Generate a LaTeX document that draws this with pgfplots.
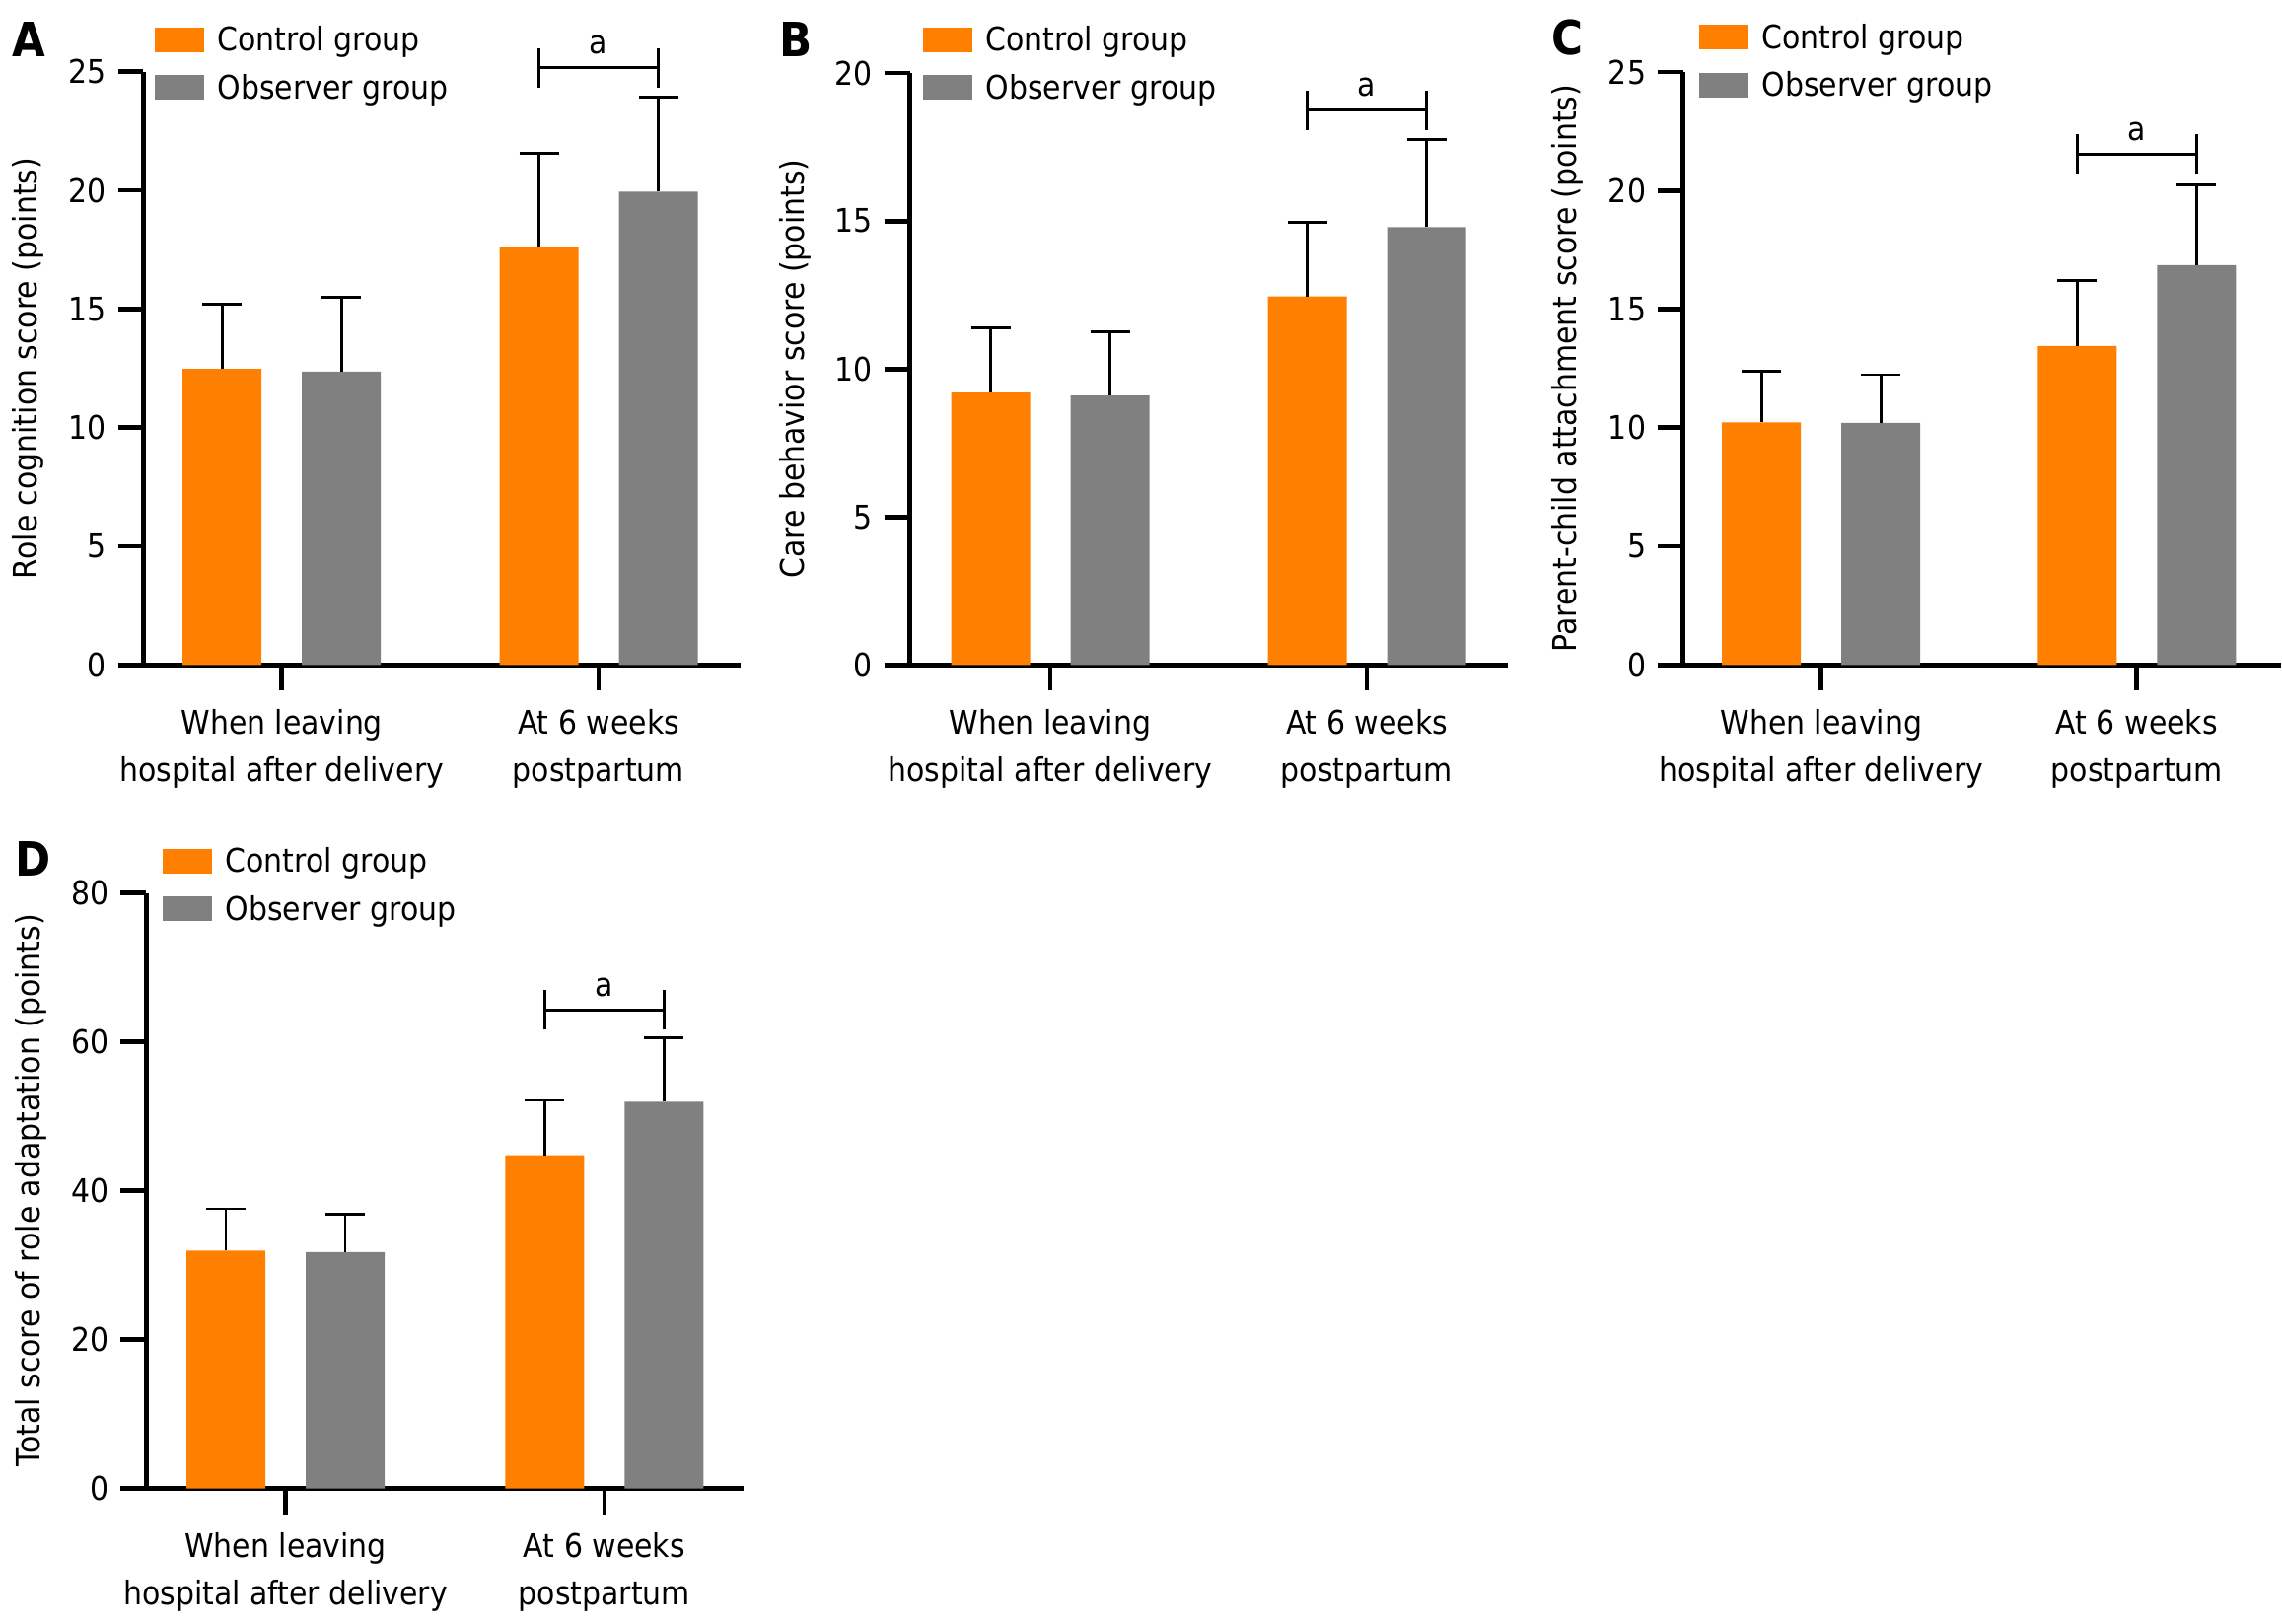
\documentclass[border=0pt]{standalone}
\usepackage{fontspec}
\setmainfont{DejaVu Sans}[FakeStretch=0.907]
\usepackage{pgfplots}
\pgfplotsset{compat=1.18}
\newlength{\px}
\setlength{\px}{0.3pt}
\definecolor{ctrl}{RGB}{255,128,0}
\definecolor{obs}{RGB}{128,128,128}

\pgfplotsset{
  panel/.style={
    scale only axis, axis lines=left, axis line style={-, line width=1.5pt},
    tick align=outside, major tick length=7.8pt,
    major tick style={line width=1.45pt, black},
    ybar, bar width=80\px, ymin=0, clip=false,
    xtick={0,1},
    xticklabels={{When leaving\\hospital after delivery},{At 6 weeks\\postpartum}},
    xticklabel style={align=center, yshift=-7\px},
    /pgf/number format/assume math mode=true,
    ylabel style={anchor=center},
    area legend, legend cell align=left,
    legend style={draw=none, fill=none, inner sep=0pt, row sep=18.5\px,
      nodes={inner sep=0pt}, anchor=north west,
      /tikz/every odd column/.append style={column sep=14\px}},
    legend image code/.code={\fill[##1] (0pt,-11\px) rectangle (50\px,14\px);},
  },
  errs/.style={error bars/.cd, y dir=plus, y explicit,
    error bar style={line width=0.8pt, black},
    error mark options={rotate=90, line width=0.8pt, mark size=6pt, black}},
  ctrlbar/.style={fill=ctrl, draw=none, bar shift=-60.5\px, errs},
  obsbar/.style={fill=obs, draw=none, bar shift=60.5\px, errs},
}

% significance bracket over the second group, at height #1
\newcommand{\bracket}[1]{%
  \draw[line width=0.75pt] ([xshift=-60.5\px]axis cs:1,#1) -- ([xshift=60.5\px]axis cs:1,#1);
  \draw[line width=0.75pt] ([xshift=-60.5\px,yshift=-20\px]axis cs:1,#1) -- ([xshift=-60.5\px,yshift=20\px]axis cs:1,#1);
  \draw[line width=0.75pt] ([xshift=60.5\px,yshift=-20\px]axis cs:1,#1) -- ([xshift=60.5\px,yshift=20\px]axis cs:1,#1);
  \node[anchor=base] at ([yshift=14\px]axis cs:1,#1) {a};
}

\begin{document}%
\fontsize{9.9}{14.55}\selectfont%
\begin{tikzpicture}[font=\fontsize{9.9}{14.55}\selectfont]
\path[use as bounding box] (0,0) rectangle (2314\px,-1646\px);

% A
\begin{axis}[panel, at={(145.5\px,-674.3\px)}, anchor=south west,
  width=605.5\px, height=601.6\px, xmin=-0.4364, xmax=1.4482,
  ymax=25, ytick={0,5,...,25},
  ylabel={Role cognition score (points)},
  ylabel style={at={(axis description cs:-0.194,0.5)}},
  legend style={at={(axis description cs:0.0173,1.0776)}}]
\addplot[ctrlbar] coordinates {(0,12.47) +- (0,2.72) (1,17.62) +- (0,3.94)};
\addplot[obsbar] coordinates {(0,12.36) +- (0,3.12) (1,19.94) +- (0,4.00)};
\legend{Control group, Observer group}
\bracket{25.17}
\end{axis}

% B
\begin{axis}[panel, at={(922.5\px,-674.3\px)}, anchor=south west,
  width=606.5\px, height=600.3\px, xmin=-0.4439, xmax=1.4455,
  ymax=20, ytick={0,5,...,20},
  ylabel={Care behavior score (points)},
  ylabel style={at={(axis description cs:-0.192,0.5)}},
  legend style={at={(axis description cs:0.0206,1.080)}}]
\addplot[ctrlbar] coordinates {(0,9.20) +- (0,2.19) (1,12.45) +- (0,2.50)};
\addplot[obsbar] coordinates {(0,9.10) +- (0,2.15) (1,14.79) +- (0,2.97)};
\legend{Control group, Observer group}
\bracket{18.75}
\end{axis}

% C
\begin{axis}[panel, at={(1706.7\px,-674.3\px)}, anchor=south west,
  width=606.3\px, height=601.3\px, xmin=-0.4375, xmax=1.457,
  ymax=25, ytick={0,5,...,25},
  ylabel={Parent-child attachment score (points)},
  ylabel style={at={(axis description cs:-0.193,0.5)}},
  legend style={at={(axis description cs:0.0252,1.0823)}}]
\addplot[ctrlbar] coordinates {(0,10.22) +- (0,2.17) (1,13.45) +- (0,2.76)};
\addplot[obsbar] coordinates {(0,10.20) +- (0,2.04) (1,16.86) +- (0,3.37)};
\legend{Control group, Observer group}
\bracket{21.53}
\end{axis}

% D
\begin{axis}[panel, at={(148.3\px,-1509.5\px)}, anchor=south west,
  width=605.7\px, height=604\px, xmin=-0.4366, xmax=1.4361,
  ymax=80, ytick={0,20,...,80},
  ylabel={Total score of role adaptation (points)},
  ylabel style={at={(axis description cs:-0.1937,0.5)}},
  legend style={at={(axis description cs:0.0259,1.0773)}}]
\addplot[ctrlbar] coordinates {(0,31.95) +- (0,5.60) (1,44.74) +- (0,7.40)};
\addplot[obsbar] coordinates {(0,31.74) +- (0,5.12) (1,51.94) +- (0,8.57)};
\legend{Control group, Observer group}
\bracket{64.25}
\end{axis}

% panel letters
\tikzset{letter/.style={anchor=base west, inner sep=0pt, font=\fontsize{14.4}{16}\selectfont\bfseries}}
\node[letter] at (12\px,-57\px) {A};
\node[letter] at (790\px,-57\px) {B};
\node[letter] at (1573\px,-55\px) {C};
\node[letter] at (15\px,-888\px) {D};
\end{tikzpicture}%
\end{document}
